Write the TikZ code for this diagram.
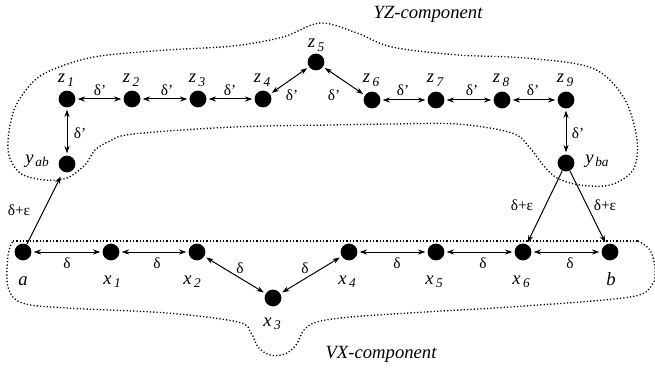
\documentclass[tikz,border=0pt]{standalone}
\usepackage{fontspec}
\setmainfont{Liberation Serif}
\usetikzlibrary{arrows.meta}
\newcommand{\sbx}[1]{\kern1.8pt\raisebox{-0.4ex}{\fontsize{10}{11}\selectfont #1}}
\begin{document}
\begin{tikzpicture}[x=0.75pt,y=-0.75pt,
  dot/.style={circle,fill=black,minimum size=12.6pt,inner sep=0pt},
  lbl/.style={font=\fontsize{14}{16}\selectfont\itshape, inner sep=0pt, anchor=base},
  dl/.style={font=\fontsize{11.5}{12}\selectfont, inner sep=0pt},
  biarr/.style={{Stealth[length=5.5pt,width=3.8pt]}-{Stealth[length=5.5pt,width=3.8pt]}, line width=0.75pt, shorten <=1.5pt, shorten >=1.5pt},
  uniarr/.style={-{Stealth[length=5.5pt,width=3.8pt]}, line width=0.75pt},
  blob/.style={line width=1pt, dash pattern=on 0.9pt off 1.6pt}]
\useasboundingbox (0,0) rectangle (655,367);

% YZ component outline
\draw[blob] plot[smooth cycle, tension=0.55] coordinates {
 (8,150) (14,110) (35,80) (62,66) (100,56) (167,50) (233,46) (283,37) (320,23)
 (357,33) (392,47) (458,55) (525,58) (592,68) (624,98) (637,140) (633,170)
 (610,185) (580,185) (557,178) (543,165) (530,148) (512,133) (458,124)
 (392,124) (330,125) (233,127) (133,134) (110,141) (95,150) (85,165)
 (67,178) (45,180) (20,173)};

% VX component outline
\draw[blob] plot[smooth, tension=0.55] coordinates {
 (638,241) (650,250) (655,268) (652,285) (630,297) (525,306) (425,312)
 (350,317) (317,322) (304,330) (296,345) (285,354) (270,355) (258,347)
 (251,333) (238,322) (167,313) (67,308) (22,303) (8,287) (8,255) (13,241)};
\draw[blob] (13,241) -- (638,241);

% nodes
\node[dot] (z1) at (67,99) {};
\node[dot] (z2) at (132,99) {};
\node[dot] (z3) at (198,99) {};
\node[dot] (z4) at (263,99) {};
\node[dot] (z5) at (316,62) {};
\node[dot] (z6) at (372,100) {};
\node[dot] (z7) at (436,100) {};
\node[dot] (z8) at (502,100) {};
\node[dot] (z9) at (566,100) {};
\node[dot] (yab) at (67,164) {};
\node[dot] (yba) at (566,163) {};
\node[dot] (a) at (23,252) {};
\node[dot] (x1) at (111,252) {};
\node[dot] (x2) at (197,252) {};
\node[dot] (x3) at (273,298) {};
\node[dot] (x4) at (349,252) {};
\node[dot] (x5) at (436,252) {};
\node[dot] (x6) at (523,252) {};
\node[dot] (b) at (610,252) {};

% node labels
\node[lbl] (lz1) at (66,83) {z\sbx{1}};
\node[lbl] (lz2) at (131,83) {z\sbx{2}};
\node[lbl] (lz3) at (197,83) {z\sbx{3}};
\node[lbl] (lz4) at (262,83) {z\sbx{4}};
\node[lbl] (lz5) at (316,48) {z\sbx{5}};
\node[lbl] (lz6) at (371,83) {z\sbx{6}};
\node[lbl] (lz7) at (435,83) {z\sbx{7}};
\node[lbl] (lz8) at (501,83) {z\sbx{8}};
\node[lbl] (lz9) at (565,83) {z\sbx{9}};
\node[lbl,anchor=base east] (lyab) at (49,163) {y\kern-0.5pt\sbx{ab}};
\node[lbl,anchor=base west] (lyba) at (585,163) {y\kern-0.5pt\sbx{ba}};
\node[lbl] (la) at (23,285) {a};
\node[lbl] (lx1) at (112,284) {x\sbx{1}};
\node[lbl] (lx2) at (192,284) {x\sbx{2}};
\node[lbl] (lx3) at (272,326) {x\sbx{3}};
\node[lbl] (lx4) at (347,284) {x\sbx{4}};
\node[lbl] (lx5) at (434,284) {x\sbx{5}};
\node[lbl] (lx6) at (521,284) {x\sbx{6}};
\node[lbl] (lb) at (611,285) {b};

% component titles
\node[lbl,anchor=center] (tyz) at (428,14) {YZ-component};
\node[lbl,anchor=center] (tvx) at (381,354) {VX-component};

% YZ edges
\draw[biarr] (z1) -- (z2);
\draw[biarr] (z2) -- (z3);
\draw[biarr] (z3) -- (z4);
\draw[biarr] (z4) -- (z5);
\draw[biarr] (z5) -- (z6);
\draw[biarr] (z6) -- (z7);
\draw[biarr] (z7) -- (z8);
\draw[biarr] (z8) -- (z9);
\draw[biarr] (z1) -- (yab);
\draw[biarr] (z9) -- (yba);

% VX edges
\draw[biarr] (a) -- (x1);
\draw[biarr] (x1) -- (x2);
\draw[biarr] (x2) -- (x3);
\draw[biarr] (x3) -- (x4);
\draw[biarr] (x4) -- (x5);
\draw[biarr] (x5) -- (x6);
\draw[biarr] (x6) -- (b);

% cross edges
\draw[uniarr, shorten >=4pt] (a) -- (yab);
\draw[uniarr, shorten >=1.5pt] (yba) -- (x6);
\draw[uniarr, shorten >=1.5pt] (yba) -- (b);

% edge labels
\node[dl] (d1) at (100,90) {δ’};
\node[dl] (d2) at (167,90) {δ’};
\node[dl] (d3) at (230,90) {δ’};
\node[dl] (d4) at (292,95) {δ’};
\node[dl] (d5) at (334,95) {δ’};
\node[dl] (d6) at (403,90) {δ’};
\node[dl] (d7) at (472,90) {δ’};
\node[dl] (d8) at (533,90) {δ’};
\node[dl] (d9) at (80,133) {δ’};
\node[dl] (d10) at (578,133) {δ’};

\node[dl] (e1) at (67,263) {δ};
\node[dl] (e2) at (157,263) {δ};
\node[dl] (e3) at (240,268) {δ};
\node[dl] (e4) at (305,268) {δ};
\node[dl] (e5) at (397,263) {δ};
\node[dl] (e6) at (483,263) {δ};
\node[dl] (e7) at (570,263) {δ};

\node[dl] (f1) at (19,210) {δ+ε};
\node[dl] (f2) at (522,205) {δ+ε};
\node[dl] (f3) at (605,205) {δ+ε};
\end{tikzpicture}
\end{document}
